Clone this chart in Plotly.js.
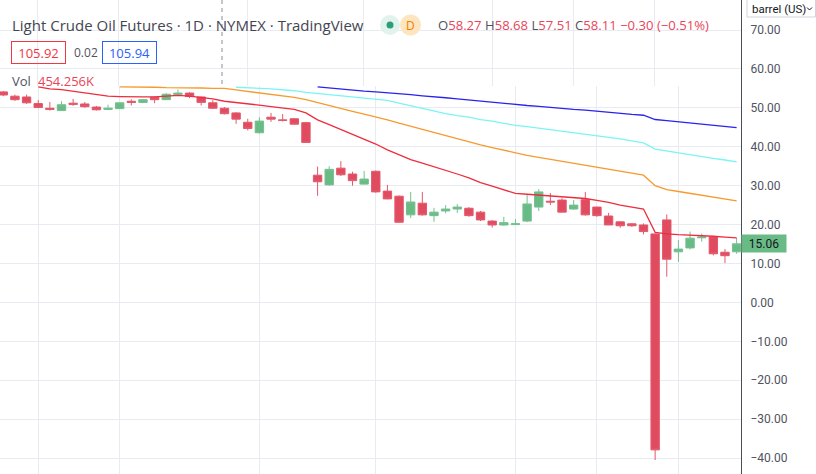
<!DOCTYPE html>
<html><head><meta charset="utf-8">
<script src="https://cdn.plot.ly/plotly-3.0.1.min.js"></script>
<style>html,body{margin:0;padding:0;background:#fff;overflow:hidden}#chart{width:816px;height:474px}</style>
</head><body><div id="chart"></div>
<script>
// ---- data ----
const dates = ["2020-01-29","2020-01-30","2020-01-31","2020-02-03","2020-02-04","2020-02-05","2020-02-06","2020-02-07",
"2020-02-10","2020-02-11","2020-02-12","2020-02-13","2020-02-14","2020-02-18","2020-02-19","2020-02-20","2020-02-21",
"2020-02-24","2020-02-25","2020-02-26","2020-02-27","2020-02-28","2020-03-02","2020-03-03","2020-03-04","2020-03-05",
"2020-03-06","2020-03-09","2020-03-10","2020-03-11","2020-03-12","2020-03-13","2020-03-16","2020-03-17","2020-03-18",
"2020-03-19","2020-03-20","2020-03-23","2020-03-24","2020-03-25","2020-03-26","2020-03-27","2020-03-30","2020-03-31",
"2020-04-01","2020-04-02","2020-04-03","2020-04-06","2020-04-07","2020-04-08","2020-04-09","2020-04-13","2020-04-14",
"2020-04-15","2020-04-16","2020-04-17","2020-04-20","2020-04-21","2020-04-22","2020-04-23","2020-04-24","2020-04-27",
"2020-04-28","2020-04-29"];
const openP  = [54.1,53.0,52.8,51.1,49.9,49.3,51.2,51.0,50.2,49.6,49.8,51.7,51.4,52.7,52.1,53.4,53.8,52.8,51.3,49.9,48.7,46.3,
43.6,47.6,46.9,47.2,46.2,32.7,30.2,34.5,33.0,30.4,33.7,28.6,27.3,22.5,25.5,22.3,23.5,24.0,24.2,23.2,20.9,19.9,20.0,20.9,24.5,
26.0,26.3,24.0,26.4,24.5,22.2,20.7,20.2,19.9,17.6,21.2,13.0,14.0,16.6,16.8,12.9,13.0];
const highP  = [54.3,53.4,53.4,52.0,51.5,51.7,52.3,51.5,50.5,50.8,51.4,52.2,52.3,52.9,53.8,54.7,54.0,52.9,52.0,50.2,48.9,47.2,
47.6,48.7,48.4,47.4,46.4,34.9,35.0,36.3,33.6,33.8,33.9,30.2,27.5,28.4,28.4,24.3,25.0,25.3,24.5,23.5,21.2,22.0,21.4,27.7,29.1,
28.1,26.8,26.3,28.4,24.6,23.0,20.9,20.4,20.3,17.7,22.6,16.0,18.2,17.7,17.0,13.7,16.6];
const lowP   = [53.0,51.8,51.0,49.9,49.3,49.2,50.5,50.0,49.3,49.4,49.7,50.6,51.2,51.2,52.0,53.3,52.5,50.6,49.7,48.3,45.9,44.2,
43.4,46.4,46.5,45.7,41.0,27.4,30.0,32.5,30.0,30.3,28.2,26.5,20.4,21.7,22.3,20.7,22.9,23.0,22.0,20.9,19.2,19.7,19.9,20.6,23.5,
25.0,23.2,23.8,22.3,22.0,19.9,19.2,19.4,17.5,-40.5,6.6,10.4,13.6,15.6,12.1,10.1,12.5];
const closeP = [53.3,52.1,51.3,50.1,49.6,50.8,50.9,50.3,49.5,49.9,51.3,51.4,52.1,52.1,53.5,53.8,52.9,51.4,49.9,48.5,47.1,44.7,
46.6,47.1,46.8,45.8,41.1,31.0,34.2,32.8,31.3,31.7,28.4,26.6,20.6,25.8,22.5,23.2,24.0,24.5,22.3,21.2,19.9,20.5,20.2,25.3,28.4,
25.8,23.2,25.0,22.5,22.3,19.9,19.7,19.7,18.2,-37.9,11.1,13.7,16.5,16.8,12.5,12.0,15.06];
const N = null;
const maRed = [N,N,N,55.4,54.9,54.7,54.3,53.9,53.5,53.0,52.9,52.8,52.8,52.8,53.0,53.2,53.0,52.7,52.3,51.7,51.4,51.1,50.7,50.3,
49.9,49.6,48.7,46.9,45.7,44.5,43.3,42.0,40.7,39.2,37.9,36.7,35.8,34.9,33.8,33.0,32.0,30.8,29.9,28.9,28.0,27.8,27.6,27.3,27.1,
26.9,26.7,26.2,25.7,25.0,24.5,24.0,18.0,17.6,17.4,17.3,17.2,17.0,16.8,16.6];
const maOrange = [N,N,N,N,N,N,N,N,N,N,55.4,55.4,55.3,55.3,55.2,55.2,55.1,55.1,55.0,55.0,54.6,54.2,53.8,53.4,53.1,52.7,52.1,51.3,
50.6,49.9,49.1,48.4,47.7,46.9,46.1,45.3,44.4,43.6,42.8,42.1,41.3,40.5,39.8,39.1,38.4,37.8,37.3,36.8,36.3,35.8,35.3,34.8,34.3,
33.8,33.2,32.7,30.0,29.0,28.5,28.0,27.5,27.1,26.6,26.1];
const maCyan = [N,N,N,N,N,N,N,N,N,N,N,N,N,N,N,N,N,N,N,N,55.3,55.1,55.0,54.9,54.7,54.4,54.0,53.7,53.4,53.2,52.9,52.6,52.3,51.9,
51.2,50.5,49.8,49.1,48.5,48.0,47.6,47.0,46.6,46.0,45.5,45.2,44.8,44.4,44.0,43.7,43.3,42.9,42.4,42.0,41.5,41.0,39.4,38.9,38.4,
38.0,37.5,37.0,36.6,36.1];
const maBlue = [N,N,N,N,N,N,N,N,N,N,N,N,N,N,N,N,N,N,N,N,N,N,N,N,N,N,N,55.4,55.1,54.8,54.6,54.3,54.1,53.9,53.6,53.4,53.1,52.9,
52.6,52.3,52.0,51.7,51.4,51.1,50.8,50.6,50.4,50.1,49.9,49.6,49.4,49.1,48.8,48.6,48.3,48.1,47.0,46.7,46.4,46.1,45.8,45.5,45.2,44.9];
const gridDates = ["2020-02-03","2020-02-12","2020-03-02","2020-03-16","2020-04-01","2020-04-13","2020-04-22"];
const headerOHLC = ["58.27","58.68","57.51","58.11"];
const headerChange = "\u22120.30 (\u22120.51%)";
const bidAsk = ["105.92","0.02","105.94"];
const volText = "454.256K";

// ---- layout helpers ----
const W = 816, H = 474;
const px = v => v / W, py = v => 1 - v / H;
const plotRight = 741;
const yTop = 86;              // boundary of header strip
const pxPerUnit = 3.891, zeroPix = 302.4;
const valAt = pix => (zeroPix - pix) / pxPerUnit;
const UP = '#68bb85', DOWN = '#e04b5f';
const GRID = '#e8ecf2', TXT = '#50535e', RED = '#e8455a';
const FONT = 'Roboto, "Liberation Sans", sans-serif';
const HFONT = '"Open Sans", Roboto, sans-serif';

const candle = {
  type: 'candlestick', x: dates, open: openP, high: highP, low: lowP, close: closeP,
  xaxis: 'x', yaxis: 'y', hoverinfo: 'skip',
  increasing: {line: {color: '#74c08f', width: 1}, fillcolor: UP},
  decreasing: {line: {color: '#e2596c', width: 1}, fillcolor: DOWN},
  whiskerwidth: 0
};
const line = (y, c) => ({type: 'scatter', mode: 'lines', x: dates, y: y, xaxis: 'x', yaxis: 'y',
  line: {color: c, width: 1.3}, hoverinfo: 'skip', connectgaps: false});
const headerStrip = {type: 'scatter', mode: 'markers', x: [], y: [], xaxis: 'x2', yaxis: 'y2', hoverinfo: 'skip'};
const traces = [candle, line(maBlue, '#2a22ee'), line(maCyan, '#7af4f4'), line(maOrange, '#f79a2e'), line(maRed, '#ee2d3d'), headerStrip];

const xStep = 11.64, x0pix = 3.3;
const xr = [-x0pix / xStep, -x0pix / xStep + plotRight / xStep];
const topGridPix = [37, 118, 247, 363, 492, 573, 654];

const ohlcSpan = v => `<span style="color:${RED}">${v}</span>`;
const ann = [
  {text: 'Light Crude Oil Futures · 1D · NYMEX · TradingView', x: px(10), y: py(25), xanchor: 'left', yanchor: 'middle',
   font: {family: HFONT, size: 15, color: '#434651'}},
  {text: 'D', x: px(410.5), y: py(25), xanchor: 'center', yanchor: 'middle', font: {family: HFONT, size: 12, color: '#f57c00'}},
  {text: `O${ohlcSpan(headerOHLC[0])} H${ohlcSpan(headerOHLC[1])} L${ohlcSpan(headerOHLC[2])} C${ohlcSpan(headerOHLC[3])} ${ohlcSpan(headerChange)}`,
   x: px(436), y: py(25), xanchor: 'left', yanchor: 'middle', font: {family: HFONT, size: 13.1, color: TXT}},
  {text: bidAsk[0], x: px(11), y: py(53), xanchor: 'left', yanchor: 'middle', font: {family: HFONT, size: 13, color: '#f23645'},
   bordercolor: '#f23645', borderwidth: 1, borderpad: 2, width: 49, height: 17},
  {text: bidAsk[1], x: px(72), y: py(53), xanchor: 'left', yanchor: 'middle', font: {family: HFONT, size: 12, color: TXT}},
  {text: bidAsk[2], x: px(102), y: py(53), xanchor: 'left', yanchor: 'middle', font: {family: HFONT, size: 13, color: '#2962ff'},
   bordercolor: '#2962ff', borderwidth: 1, borderpad: 2, width: 49, height: 17},
  {text: 'Vol', x: px(10), y: py(81), xanchor: 'left', yanchor: 'middle', font: {family: HFONT, size: 13, color: TXT}},
  {text: volText, x: px(36), y: py(81), xanchor: 'left', yanchor: 'middle', font: {family: HFONT, size: 13, color: RED}},
  {text: 'barrel (US)', x: px(750), y: py(9), xanchor: 'left', yanchor: 'middle', font: {family: FONT, size: 11.5, color: '#131722'}},
  {text: closeP[closeP.length - 1].toFixed(2), x: px(plotRight), y: closeP[closeP.length - 1], xref: 'paper', yref: 'y',
   xanchor: 'left', yanchor: 'middle', font: {family: FONT, size: 12, color: '#131722'}, bgcolor: UP,
   width: 40, height: 13, borderpad: 2}
].map(a => Object.assign({showarrow: false, xref: 'paper', yref: 'paper'}, a));

const circ = (cx, cy, r, fill) => ({type: 'circle', xref: 'paper', yref: 'paper', x0: px(cx - r), x1: px(cx + r),
  y0: py(cy + r), y1: py(cy - r), fillcolor: fill, line: {width: 0}});
const shapes = [
  {type: 'line', xref: 'paper', yref: 'paper', x0: px(222), x1: px(222), y0: py(0), y1: py(84),
   line: {color: '#8b8e98', width: 1, dash: '4px,4px'}},
  circ(390, 25, 10, '#e2f2ec'),
  circ(410.5, 25, 10.5, '#fde5c0'),
  circ(390, 25, 3.5, '#2c9f7a'),
  {type: 'rect', xref: 'paper', yref: 'paper', x0: px(747), x1: px(815.5), y0: py(17), y1: py(-3),
   line: {color: '#d1d4dc', width: 1}, fillcolor: 'rgba(0,0,0,0)'},
  {type: 'path', xref: 'paper', yref: 'paper',
   path: `M ${px(807)} ${py(7.5)} L ${px(809.5)} ${py(10)} L ${px(812)} ${py(7.5)}`, line: {color: '#131722', width: 1}}
];

const yBase = {side: 'right', tickformat: '.2f', dtick: 10, tick0: 0, showgrid: true, gridcolor: GRID, gridwidth: 1,
  zeroline: false, showline: true, linecolor: '#4a4d57', linewidth: 1, ticks: '', ticklabelstandoff: 6,
  tickfont: {family: FONT, size: 12, color: TXT}, fixedrange: true};
const layout = {
  width: W, height: H, margin: {l: 0, r: 0, t: 0, b: 0, pad: 0}, boxgap: 0.28, boxgroupgap: 0,
  paper_bgcolor: '#ffffff', plot_bgcolor: '#ffffff', showlegend: false, dragmode: false,
  xaxis: {type: 'category', domain: [0, px(plotRight)], range: xr, anchor: 'y', tickvals: gridDates,
    showticklabels: false, ticks: '', showgrid: true, gridcolor: GRID, zeroline: false, showline: false,
    rangeslider: {visible: false}, fixedrange: true},
  yaxis: Object.assign({}, yBase, {domain: [0, 1 - yTop / H], anchor: 'x', range: [valAt(H), valAt(yTop)]}),
  xaxis2: {type: 'linear', domain: [0, px(plotRight)], range: xr, anchor: 'y2',
    tickvals: topGridPix.map(p => (p - x0pix) / xStep), showticklabels: false, ticks: '', showgrid: true,
    gridcolor: GRID, zeroline: false, showline: false, fixedrange: true},
  yaxis2: Object.assign({}, yBase, {domain: [1 - yTop / H, 1], anchor: 'x2', range: [valAt(yTop), valAt(0)]}),
  annotations: ann, shapes: shapes
};
Plotly.newPlot('chart', traces, layout, {staticPlot: true, displayModeBar: false});
</script></body></html>
